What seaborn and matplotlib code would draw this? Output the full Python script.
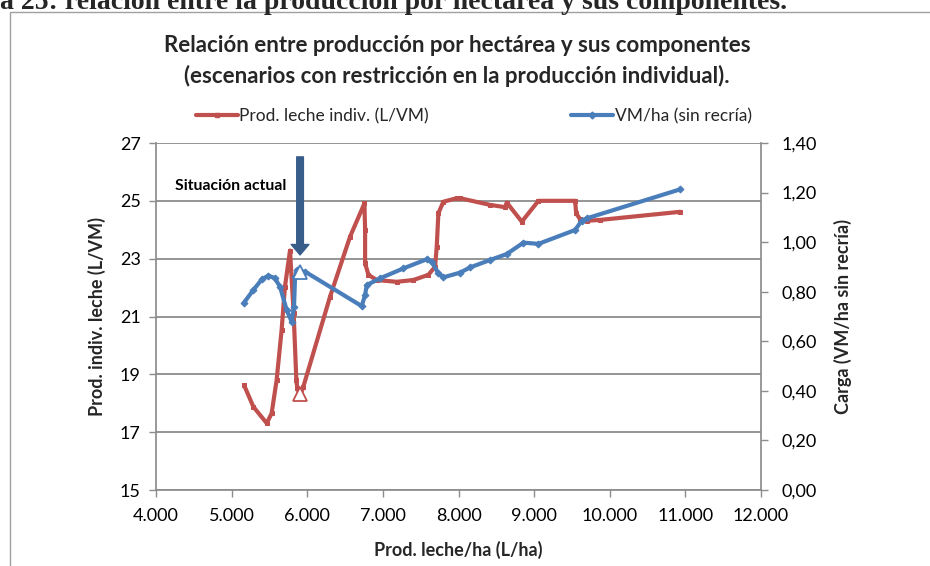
import matplotlib
matplotlib.use("Agg")
import matplotlib.pyplot as plt
import seaborn as sns
import pandas as pd

# ==============================
# DATOS
# ==============================
# Prod. leche indiv. (L/VM) vs Prod. leche/ha (L/ha)
prod_ha_red = [5164, 5287, 5464, 5529, 5595, 5661, 5705, 5772, 5820, 5856, 5869, 5905,
               5948, 6302, 6566, 6756, 6765, 6765, 6809, 6919, 7183, 7400, 7601, 7690,
               7712, 7734, 7800, 7976, 8021, 8418, 8616, 8638, 8837, 9057, 9542, 9556,
               9608, 9696, 9873, 10931]
prod_indiv = [18.63, 17.88, 17.31, 17.65, 18.80, 20.53, 22.03, 23.28, 21.11, 18.80, 18.52, 18.25,
              18.57, 21.69, 23.76, 24.91, 24.00, 22.84, 22.44, 22.26, 22.20, 22.26, 22.44, 22.72,
              23.41, 24.57, 24.97, 25.09, 25.09, 24.86, 24.78, 24.94, 24.28, 25.00, 25.00, 24.57,
              24.36, 24.31, 24.34, 24.62]

# VM/ha (sin recria) vs Prod. leche/ha (L/ha)
prod_ha_blue = [5164, 5287, 5400, 5486, 5570, 5640, 5728, 5794, 5825, 5839, 5861, 5913, 5971,
                6720, 6765, 6787, 6963, 7271, 7580, 7646, 7734, 7800, 8021, 8153, 8418, 8638,
                8859, 9057, 9542, 9630, 9696, 10931]
carga = [0.756, 0.807, 0.850, 0.865, 0.855, 0.820, 0.726, 0.679, 0.740, 0.861, 0.888, 0.881, 0.881,
         0.742, 0.787, 0.827, 0.854, 0.894, 0.931, 0.921, 0.874, 0.858, 0.877, 0.898, 0.928, 0.952,
         0.998, 0.993, 1.049, 1.087, 1.096, 1.213]

# situacion actual
actual_ha = 5905
actual_indiv = 18.32
actual_carga = 0.881

x_ticks = [4000, 5000, 6000, 7000, 8000, 9000, 10000, 11000, 12000]
x_labels = ["4.000", "5.000", "6.000", "7.000", "8.000", "9.000", "10.000", "11.000", "12.000"]
y_ticks = [15, 17, 19, 21, 23, 25, 27]
y2_ticks = [0.0, 0.2, 0.4, 0.6, 0.8, 1.0, 1.2, 1.4]
y2_labels = ["0,00", "0,20", "0,40", "0,60", "0,80", "1,00", "1,20", "1,40"]

red_df = pd.DataFrame({"x": prod_ha_red, "y": prod_indiv})
blue_df = pd.DataFrame({"x": prod_ha_blue, "y": carga})

# ==============================
# CONFIGURACION VISUAL
# ==============================
sns.set_theme(style="white")
plt.rcParams["font.family"] = ["Lato", "DejaVu Sans"]

RED = "#C0504D"
BLUE = "#4A7EBB"
GRID = "#8C8C8C"
TXT = "#000000"

fig = plt.figure(figsize=(9.3, 5.66), dpi=100)
ax = fig.add_axes([156 / 930, 1 - 490 / 566, (761 - 156) / 930, (490 - 143) / 566])
ax2 = ax.twinx()

# marco del grafico
fig.patches.append(plt.Rectangle((9.5 / 930, -0.05), 1.0, 1 - 11.5 / 566 + 0.05,
                                 transform=fig.transFigure, fill=False,
                                 edgecolor="#A0A0A0", linewidth=1.0))

# leyenda del documento (cortada arriba, como en el original)
fig.text(0.0, 1 - 9 / 566, "a 25: relación entre la producción por hectárea y sus componentes.",
         family=["Liberation Serif"], fontsize=20, fontweight="bold", va="baseline", ha="left")

sns.lineplot(data=red_df, x="x", y="y", ax=ax, sort=False, estimator=None, color=RED,
             linewidth=3.0, marker="s", markersize=3.5, markeredgecolor=RED)
sns.lineplot(data=blue_df, x="x", y="y", ax=ax2, sort=False, estimator=None, color=BLUE,
             linewidth=3.0, marker="D", markersize=3.5, markeredgecolor=BLUE)

ax.plot([actual_ha], [actual_indiv], marker="^", markersize=10.5, markerfacecolor="white",
        markeredgecolor=RED, markeredgewidth=1.3, linestyle="none", zorder=5)
ax2.plot([actual_ha], [actual_carga], marker="^", markersize=10.5, markerfacecolor="white",
         markeredgecolor=BLUE, markeredgewidth=1.3, linestyle="none", zorder=5)

# flecha "Situacion actual"
ax.annotate("", xy=(actual_ha, 23.13), xytext=(actual_ha, 26.52),
            arrowprops=dict(arrowstyle="simple,head_length=0.5,head_width=0.85,tail_width=0.32",
                            mutation_scale=15, color="#385D8A", shrinkA=0, shrinkB=0))
ax.text(5730, 25.5, "Situación actual", fontsize=11.3, fontweight="bold", ha="right", va="center",
        color=TXT)

# ejes
ax.set_xlim(4000, 12000)
ax.set_ylim(15, 27)
ax2.set_ylim(0, 1.4)
ax.set_xticks(x_ticks)
ax.set_xticklabels(x_labels)
ax.set_yticks(y_ticks)
ax2.set_yticks(y2_ticks)
ax2.set_yticklabels(y2_labels)

ax.yaxis.grid(True, color=GRID, linewidth=1.3)
ax.xaxis.grid(False)
ax2.grid(False)
ax.set_axisbelow(True)

for a in (ax, ax2):
    a.spines["top"].set_visible(False)
    a.spines["left"].set_color(GRID)
    a.spines["right"].set_color(GRID)
    a.spines["bottom"].set_color(GRID)
    a.tick_params(colors=GRID, labelcolor=TXT, labelsize=13, length=5, width=1)
ax.spines["right"].set_visible(False)
ax2.spines["left"].set_visible(False)
ax2.spines["bottom"].set_visible(False)
ax.tick_params(axis="x", direction="out", bottom=True, pad=8)
ax.tick_params(axis="y", direction="out", left=True, pad=6)
ax2.tick_params(axis="y", direction="out", right=True, pad=10)

ax.set_xlabel("Prod. leche/ha (L/ha)", fontsize=13, fontweight="bold", labelpad=12)
ax.set_ylabel("Prod. indiv. leche (L/VM)", fontsize=13, fontweight="bold", labelpad=10)
ax2.set_ylabel("Carga (VM/ha sin recría)", fontsize=13, fontweight="bold", labelpad=12)

# titulo
fig.text(0.4914, 1 - 46 / 566, "Relación entre producción por hectárea y sus componentes",
         fontsize=16, fontweight="bold", ha="center", va="center")
fig.text(0.4914, 1 - 76 / 566, "(escenarios con restricción en la producción individual).",
         fontsize=16, fontweight="bold", ha="center", va="center")

# leyenda
h1 = plt.Line2D([], [], color=RED, linewidth=3.0, marker="s", markersize=3.5)
h2 = plt.Line2D([], [], color=BLUE, linewidth=3.0, marker="D", markersize=3.5)
fig.legend([h1, h2], ["Prod. leche indiv. (L/VM)", "VM/ha (sin recría)"],
           loc="center left", bbox_to_anchor=(196 / 930, 1 - 116 / 566), ncol=2, frameon=False,
           fontsize=12.5, handlelength=2.4, handletextpad=0.1, columnspacing=8.2,
           borderpad=0, borderaxespad=0)

fig.savefig("out.png", dpi=100)
